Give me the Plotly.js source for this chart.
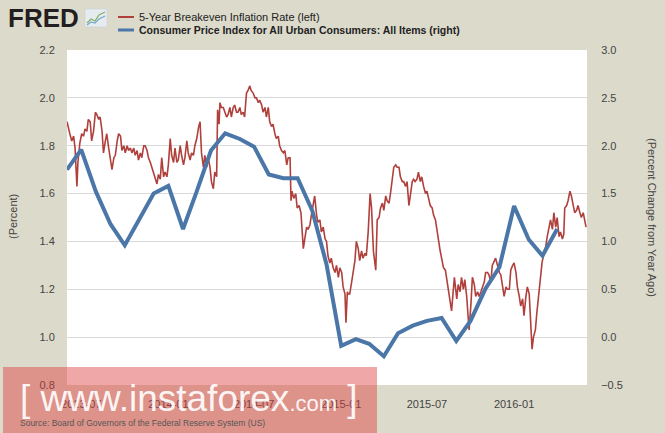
<!DOCTYPE html>
<html>
<head>
<meta charset="utf-8">
<script src="https://cdn.plot.ly/plotly-3.0.1.min.js"></script>
<style>html,body{margin:0;padding:0;background:#dcdacb;}#chart{width:665px;height:433px;}</style>
</head>
<body>
<div id="chart"></div>
<script>
// ---- Data ----
const seriesNames = ['5-Year Breakeven Inflation Rate (left)', 'Consumer Price Index for All Urban Consumers: All Items (right)'];

const cpiDates = ['2013-06-01','2013-07-01','2013-08-01','2013-09-01','2013-10-01','2013-11-01','2013-12-01',
'2014-01-01','2014-02-01','2014-03-01','2014-04-01','2014-05-01','2014-06-01','2014-07-01','2014-08-01','2014-09-01','2014-10-01','2014-11-01','2014-12-01',
'2015-01-01','2015-02-01','2015-03-01','2015-04-01','2015-05-01','2015-06-01','2015-07-01','2015-08-01','2015-09-01','2015-10-01','2015-11-01','2015-12-01',
'2016-01-01','2016-02-01','2016-03-01','2016-04-01'];
const cpiValues = [1.75,1.96,1.52,1.18,0.96,1.24,1.50,
1.58,1.13,1.51,1.95,2.13,2.07,1.99,1.70,1.66,1.66,1.32,0.76,
-0.09,-0.02,-0.07,-0.20,0.04,0.12,0.17,0.20,-0.04,0.17,0.50,0.73,
1.37,1.02,0.85,1.13];

const breakevenDates = ['2013-06-01','2013-06-04','2013-06-07','2013-06-11','2013-06-15','2013-06-18','2013-06-22','2013-06-24','2013-06-28',
'2013-07-02','2013-07-06','2013-07-09','2013-07-13','2013-07-16','2013-07-20','2013-07-23','2013-07-27','2013-07-31',
'2013-08-03','2013-08-07','2013-08-10','2013-08-14','2013-08-17','2013-08-21','2013-08-24','2013-08-28',
'2013-09-01','2013-09-04','2013-09-08','2013-09-11','2013-09-15','2013-09-18','2013-09-22','2013-09-25','2013-09-29',
'2013-10-02','2013-10-06','2013-10-09','2013-10-13','2013-10-16','2013-10-20','2013-10-23','2013-10-27','2013-10-30',
'2013-11-03','2013-11-06','2013-11-10','2013-11-13','2013-11-17','2013-11-20','2013-11-24','2013-11-27',
'2013-12-01','2013-12-04','2013-12-08','2013-12-11','2013-12-15','2013-12-18','2013-12-22','2013-12-25','2013-12-29',
'2014-01-01','2014-01-05','2014-01-08','2014-01-12','2014-01-15','2014-01-19','2014-01-22','2014-01-26','2014-01-29',
'2014-02-02','2014-02-05','2014-02-09','2014-02-12','2014-02-16','2014-02-19','2014-02-23','2014-02-26',
'2014-03-02','2014-03-06','2014-03-09','2014-03-12','2014-03-16','2014-03-19','2014-03-23','2014-03-26','2014-03-30',
'2014-04-02','2014-04-06','2014-04-09','2014-04-13','2014-04-15','2014-04-18','2014-04-20','2014-04-23','2014-04-27','2014-04-30',
'2014-05-04','2014-05-07','2014-05-11','2014-05-14','2014-05-18','2014-05-21','2014-05-25','2014-05-28',
'2014-06-01','2014-06-04','2014-06-08','2014-06-11','2014-06-15','2014-06-18','2014-06-22','2014-06-25','2014-06-29',
'2014-07-03','2014-07-06','2014-07-10','2014-07-13','2014-07-17','2014-07-20','2014-07-24','2014-07-27','2014-07-31',
'2014-08-03','2014-08-07','2014-08-10','2014-08-14','2014-08-17','2014-08-21','2014-08-24','2014-08-28',
'2014-09-01','2014-09-04','2014-09-08','2014-09-11','2014-09-15','2014-09-17','2014-09-19','2014-09-23','2014-09-27','2014-09-30',
'2014-10-04','2014-10-08','2014-10-13','2014-10-16','2014-10-20','2014-10-23','2014-10-27','2014-10-30',
'2014-11-03','2014-11-06','2014-11-10','2014-11-13','2014-11-17','2014-11-20','2014-11-24','2014-11-28',
'2014-12-01','2014-12-04','2014-12-08','2014-12-11','2014-12-15','2014-12-19','2014-12-22','2014-12-26','2014-12-29',
'2015-01-02','2015-01-05','2015-01-09','2015-01-11','2015-01-14','2015-01-16','2015-01-19','2015-01-23','2015-01-26','2015-01-30',
'2015-02-02','2015-02-06','2015-02-09','2015-02-13','2015-02-16','2015-02-20','2015-02-23','2015-02-27',
'2015-03-03','2015-03-06','2015-03-10','2015-03-13','2015-03-15','2015-03-18','2015-03-22','2015-03-25','2015-03-29',
'2015-04-01','2015-04-05','2015-04-08','2015-04-12','2015-04-15','2015-04-19','2015-04-22','2015-04-26','2015-04-29',
'2015-05-03','2015-05-06','2015-05-10','2015-05-13','2015-05-17','2015-05-20','2015-05-24','2015-05-27','2015-05-31',
'2015-06-03','2015-06-06','2015-06-10','2015-06-13','2015-06-17','2015-06-20','2015-06-24','2015-06-28',
'2015-07-01','2015-07-05','2015-07-08','2015-07-12','2015-07-15','2015-07-19','2015-07-22','2015-07-26','2015-07-29',
'2015-08-02','2015-08-05','2015-08-09','2015-08-12','2015-08-16','2015-08-19','2015-08-22','2015-08-25','2015-08-28',
'2015-09-02','2015-09-05','2015-09-09','2015-09-12','2015-09-16','2015-09-19','2015-09-23','2015-09-26','2015-09-28',
'2015-10-02','2015-10-05','2015-10-09','2015-10-12','2015-10-16','2015-10-19','2015-10-23','2015-10-26','2015-10-30',
'2015-11-02','2015-11-06','2015-11-09','2015-11-13','2015-11-16','2015-11-20','2015-11-23','2015-11-27',
'2015-12-01','2015-12-04','2015-12-08','2015-12-11','2015-12-15','2015-12-18','2015-12-22','2015-12-25','2015-12-29',
'2016-01-01','2016-01-05','2016-01-08','2016-01-12','2016-01-15','2016-01-19','2016-01-22','2016-01-26','2016-01-29',
'2016-02-02','2016-02-05','2016-02-08','2016-02-11','2016-02-15','2016-02-18','2016-02-22','2016-02-25','2016-02-29',
'2016-03-04','2016-03-08','2016-03-11','2016-03-15','2016-03-18','2016-03-22','2016-03-25','2016-03-29',
'2016-04-01','2016-04-05','2016-04-08','2016-04-12','2016-04-15','2016-04-17','2016-04-21','2016-04-24','2016-04-28',
'2016-05-01','2016-05-05','2016-05-08','2016-05-12','2016-05-15','2016-05-19','2016-05-22','2016-05-26','2016-05-29','2016-06-01'];
const breakevenValues = [1.90,1.87,1.85,1.82,1.84,1.79,1.63,1.73,1.81,
1.85,1.84,1.87,1.86,1.91,1.90,1.82,1.86,1.94,
1.93,1.91,1.92,1.86,1.77,1.82,1.85,1.79,
1.73,1.70,1.75,1.76,1.82,1.85,1.84,1.78,1.80,
1.77,1.80,1.78,1.79,1.77,1.79,1.76,1.78,1.74,
1.77,1.75,1.80,1.80,1.78,1.75,1.73,1.71,
1.69,1.66,1.64,1.68,1.66,1.75,1.67,1.69,1.67,
1.72,1.83,1.76,1.73,1.79,1.73,1.74,1.80,1.76,
1.72,1.75,1.82,1.77,1.74,1.77,1.76,1.80,
1.83,1.88,1.90,1.77,1.71,1.76,1.71,1.75,1.71,
1.65,1.62,1.69,1.67,1.95,1.89,1.98,1.96,1.96,1.94,
1.92,1.93,1.96,1.92,1.96,1.97,1.94,1.94,
1.96,1.93,1.94,1.92,2.02,2.03,2.05,2.03,2.02,
2.00,2.00,1.98,1.99,1.97,1.94,1.96,1.92,1.96,
1.90,1.88,1.89,1.85,1.83,1.84,1.80,1.78,
1.77,1.78,1.72,1.75,1.75,1.57,1.61,1.58,1.60,1.54,
1.55,1.52,1.37,1.41,1.46,1.45,1.47,1.51,
1.55,1.59,1.51,1.48,1.49,1.44,1.46,1.41,
1.40,1.34,1.31,1.33,1.29,1.27,1.30,1.25,1.29,
1.27,1.21,1.18,1.06,1.19,1.18,1.18,1.23,1.28,1.32,
1.40,1.37,1.32,1.36,1.33,1.35,1.34,1.44,
1.60,1.54,1.36,1.31,1.28,1.49,1.50,1.54,1.56,
1.53,1.59,1.57,1.56,1.60,1.66,1.71,1.72,1.71,
1.71,1.67,1.65,1.65,1.63,1.65,1.55,1.59,1.65,
1.66,1.65,1.66,1.69,1.65,1.67,1.63,1.60,
1.61,1.58,1.55,1.54,1.51,1.49,1.45,1.39,1.36,
1.32,1.29,1.28,1.24,1.20,1.14,1.11,1.18,1.25,
1.16,1.22,1.19,1.25,1.20,1.24,1.17,1.10,1.03,
1.14,1.25,1.22,1.17,1.19,1.17,1.19,1.21,1.23,
1.27,1.27,1.26,1.23,1.30,1.32,1.33,1.30,
1.27,1.26,1.21,1.17,1.21,1.20,1.20,1.28,1.30,
1.31,1.27,1.21,1.17,1.13,1.16,1.09,1.17,1.21,
1.18,1.04,0.95,1.00,1.03,1.10,1.17,1.24,1.31,
1.35,1.38,1.42,1.46,1.49,1.45,1.52,1.46,
1.50,1.42,1.44,1.41,1.43,1.54,1.55,1.57,1.61,
1.59,1.55,1.52,1.53,1.55,1.52,1.50,1.52,1.48,1.46];

const xRange = ['2013-06-01', '2016-06-03'];
const leftRange = [0.8, 2.2];
const rightRange = [-0.5, 3.0];
const leftTitle = '(Percent)';
const rightTitle = '(Percent Change from Year Ago)';
const sourceText = 'Source: Board of Governors of the Federal Reserve System (US)';

// ---- Layout helpers (pixel -> paper) ----
const W = 665, H = 433, ML = 67, MR = 78, MT = 50, MB = 48;
const PW = W - ML - MR, PH = H - MT - MB;
const px = x => (x - ML) / PW;
const py = y => (H - MB - y) / PH;

const RED = '#b0403c', BLUE = '#4a76a8';
const FONT = 'Liberation Sans, Arial, sans-serif';
const TICKC = '#444';

const traces = [
  {x: breakevenDates, y: breakevenValues, type: 'scatter', mode: 'lines', name: seriesNames[0],
   line: {color: RED, width: 1.6}, yaxis: 'y'},
  {x: cpiDates, y: cpiValues, type: 'scatter', mode: 'lines', name: seriesNames[1],
   line: {color: BLUE, width: 4}, yaxis: 'y2'}
];

function linePath(pts) {
  return pts.map((p, i) => (i ? 'L ' : 'M ') + px(p[0]).toFixed(4) + ' ' + py(p[1]).toFixed(4)).join(' ');
}

const layout = {
  width: W, height: H,
  margin: {l: ML, r: MR, t: MT, b: MB, pad: 0},
  paper_bgcolor: '#dcdacb',
  plot_bgcolor: '#ffffff',
  showlegend: false,
  font: {family: FONT, size: 11, color: TICKC},
  xaxis: {type: 'date', range: xRange, tickformat: '%Y-%m', dtick: 'M6', tick0: '2013-07-01',
    showgrid: false, zeroline: false, showline: false, ticks: 'outside', ticklen: 9,
    tickcolor: 'rgba(0,0,0,0)', tickfont: {family: FONT, size: 11, color: TICKC}},
  yaxis: {range: leftRange, dtick: 0.2, tick0: 0.8, tickformat: '.1f', gridcolor: '#dadada', gridwidth: 1,
    zeroline: false, showline: false, ticks: 'outside', ticklen: 9, tickcolor: 'rgba(0,0,0,0)',
    tickfont: {family: FONT, size: 11, color: TICKC}},
  yaxis2: {range: rightRange, dtick: 0.5, tick0: -0.5, tickformat: '.1f', overlaying: 'y', side: 'right',
    showgrid: false, zeroline: false, showline: false, ticks: 'outside', ticklen: 11, tickcolor: 'rgba(0,0,0,0)',
    tickfont: {family: FONT, size: 11, color: TICKC}},
  shapes: [
    // legend samples
    {type: 'line', xref: 'paper', yref: 'paper', x0: px(118), x1: px(134), y0: py(17), y1: py(17), line: {color: RED, width: 2}},
    {type: 'line', xref: 'paper', yref: 'paper', x0: px(118), x1: px(134), y0: py(30), y1: py(30), line: {color: BLUE, width: 3}},
    // FRED icon
    {type: 'rect', xref: 'paper', yref: 'paper', x0: px(85), x1: px(107), y0: py(27), y1: py(9),
     fillcolor: '#e6ebef', line: {color: '#c9d1d8', width: 0.6}},
    {type: 'path', xref: 'paper', yref: 'paper', path: linePath([[87,23],[91,19],[95,21],[99,15],[105,12]]), line: {color: '#7fb069', width: 1.2}},
    {type: 'path', xref: 'paper', yref: 'paper', path: linePath([[87,25],[91,22],[95,23],[99,19],[105,16]]), line: {color: '#7aa6cf', width: 1.2}},
    // watermark band
    {type: 'rect', xref: 'paper', yref: 'paper', x0: px(3), x1: px(377), y0: py(434), y1: py(367),
     fillcolor: 'rgba(222,60,60,0.45)', line: {width: 0}, layer: 'above'}
  ],
  annotations: [
    {xref: 'paper', yref: 'paper', x: px(6), y: py(18), xanchor: 'left', yanchor: 'middle', showarrow: false,
     text: '<b>FRED</b>', font: {family: FONT, size: 26, color: '#231f20'}},
    {xref: 'paper', yref: 'paper', x: px(137), y: py(17), xanchor: 'left', yanchor: 'middle', showarrow: false,
     text: seriesNames[0], font: {family: FONT, size: 11, color: '#222'}},
    {xref: 'paper', yref: 'paper', x: px(137), y: py(30), xanchor: 'left', yanchor: 'middle', showarrow: false,
     text: '<b>' + seriesNames[1] + '</b>', font: {family: FONT, size: 10.5, color: '#222'}},
    {xref: 'paper', yref: 'paper', x: px(13), y: py(217), xanchor: 'center', yanchor: 'middle', showarrow: false,
     textangle: -90, text: leftTitle, font: {family: FONT, size: 11, color: TICKC}},
    {xref: 'paper', yref: 'paper', x: px(652), y: py(217), xanchor: 'center', yanchor: 'middle', showarrow: false,
     textangle: 90, text: rightTitle, font: {family: FONT, size: 11, color: TICKC}},
    {xref: 'paper', yref: 'paper', x: px(189), y: py(398), xanchor: 'center', yanchor: 'middle', showarrow: false,
     text: '[ www.instaforex<span style="font-size:22px">.com</span> ]', font: {family: FONT, size: 37, color: 'rgba(255,255,255,0.92)'}},
    {xref: 'paper', yref: 'paper', x: px(18), y: py(423), xanchor: 'left', yanchor: 'middle', showarrow: false,
     text: sourceText, font: {family: FONT, size: 8.5, color: '#555'}}
  ]
};

Plotly.newPlot('chart', traces, layout, {staticPlot: true, displayModeBar: false});
</script>
</body>
</html>
